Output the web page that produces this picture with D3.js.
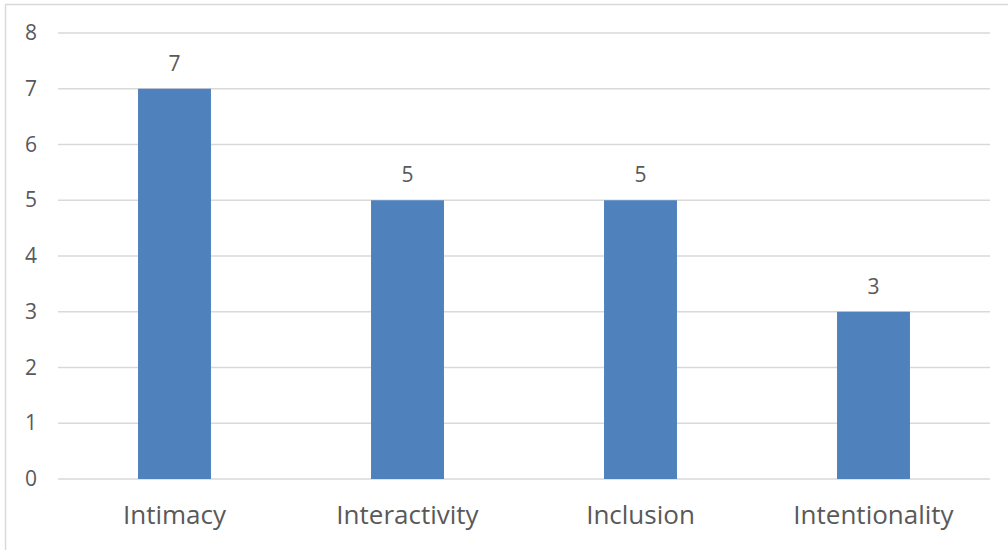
<!DOCTYPE html>
<html>
<head>
<meta charset="utf-8">
<script src="https://cdn.jsdelivr.net/npm/d3@7"></script>
<style>
  body { margin: 0; background: #fff; }
  text { font-family: "Open Sans", sans-serif; fill: #595959; }
</style>
</head>
<body>
<div id="chart"></div>
<script>
// chart values
const categories = ["Intimacy", "Interactivity", "Inclusion", "Intentionality"];
const values = [7, 5, 5, 3];
const yTicks = [0, 1, 2, 3, 4, 5, 6, 7, 8];

const W = 1008, H = 550;
const margin = { top: 33, right: 18, bottom: 71, left: 58 };
const width = W - margin.left - margin.right;
const height = H - margin.top - margin.bottom;

var svg = d3
  .select("#chart")
  .append("svg")
  .attr("width", W)
  .attr("height", H);

// outer chart border (runs off the picture right and bottom)
svg.append("rect")
  .attr("x", 5.5).attr("y", 4.5)
  .attr("width", W + 20).attr("height", H + 20)
  .attr("fill", "none")
  .attr("stroke", "#d9d9d9")
  .attr("stroke-width", 1.5);

var g = svg.append("g")
  .attr("transform", "translate(" + margin.left + "," + margin.top + ")");

var x = d3.scaleBand().domain(categories).range([0, width]).paddingInner(0.687).paddingOuter(0.3435);
var y = d3.scaleLinear().domain([0, 8]).range([height, 0]);

// gridlines
g.selectAll(".grid")
  .data(yTicks)
  .enter()
  .append("line")
  .attr("x1", 0)
  .attr("x2", width)
  .attr("y1", function (d) { return y(d); })
  .attr("y2", function (d) { return y(d); })
  .attr("stroke", "#d9d9d9")
  .attr("stroke-width", 1.5);

// y axis labels
var yAxis = g.append("g")
  .call(d3.axisLeft(y).tickValues(yTicks).tickSize(0).tickPadding(21));
yAxis.select(".domain").remove();
yAxis.selectAll("text")
  .style("font-size", "21px")
  .attr("fill", "#595959");

// bars
g.selectAll(".bar")
  .data(values)
  .enter()
  .append("rect")
  .attr("x", function (d, i) { return x(categories[i]); })
  .attr("width", x.bandwidth())
  .attr("y", function (d) { return y(d); })
  .attr("height", function (d) { return height - y(d); })
  .attr("fill", "#4f81bd");

// data labels
g.selectAll(".lbl")
  .data(values)
  .enter()
  .append("text")
  .attr("x", function (d, i) { return x(categories[i]) + x.bandwidth() / 2; })
  .attr("y", function (d) { return y(d) - 18; })
  .attr("text-anchor", "middle")
  .style("font-size", "21px")
  .text(function (d) { return d; });

// x axis labels
var xAxis = g.append("g")
  .attr("transform", "translate(0," + height + ")")
  .call(d3.axisBottom(x).tickSize(0).tickPadding(27));
xAxis.select(".domain").remove();
xAxis.selectAll("text")
  .style("font-size", "26px")
  .attr("fill", "#595959");
</script>
</body>
</html>
